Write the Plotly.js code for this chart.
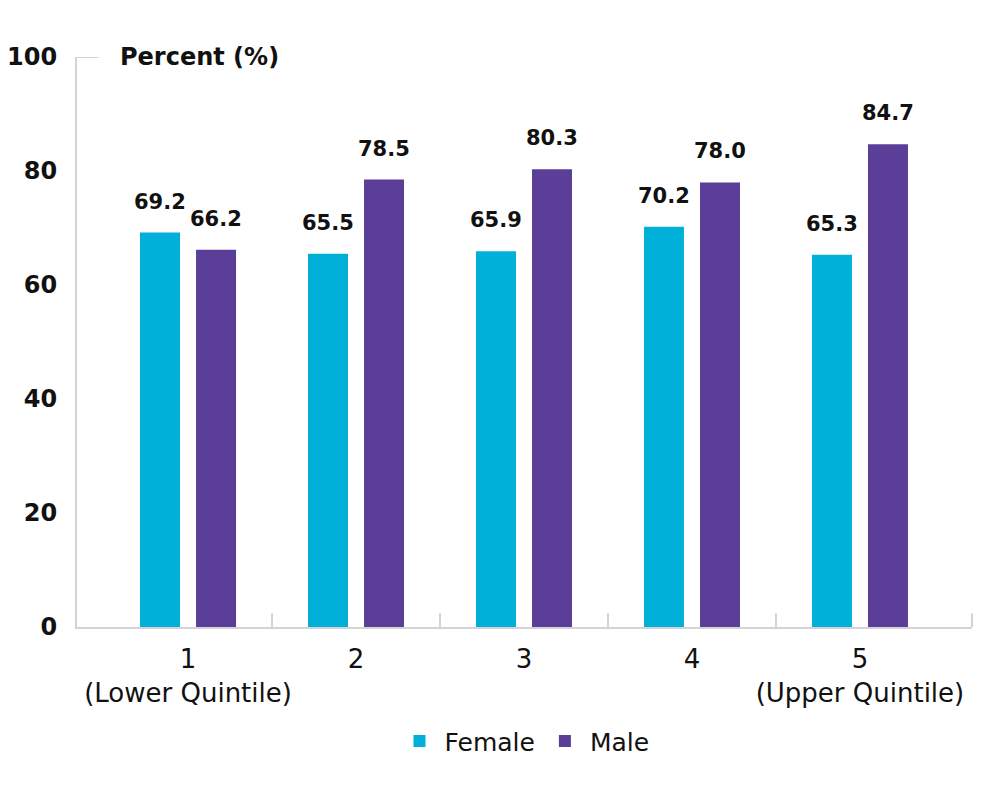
<!DOCTYPE html>
<html>
<head>
<meta charset="utf-8">
<script src="https://cdn.plot.ly/plotly-3.0.1.min.js"></script>
<style>html,body{margin:0;padding:0;background:#fff;}#chart{width:1000px;height:800px;}</style>
</head>
<body>
<div id="chart"></div>
<script>
const categories = ["1<br>(Lower Quintile)", "2", "3", "4", "5<br>(Upper Quintile)"];
const femaleValues = [69.2, 65.5, 65.9, 70.2, 65.3];
const maleValues = [66.2, 78.5, 80.3, 78.0, 84.7];
const yTicks = [0, 20, 40, 60, 80, 100];
const seriesNames = ["Female", "Male"];

const FONT = "DejaVu Sans, Arial, sans-serif";
const colors = ["#00B0D8", "#5A3E97"];
const xIdx = categories.map((_, i) => i);
const bargap = 0.333, bargroupgap = 0.286;
const slot = (1 - bargap) / 2;

const traces = [femaleValues, maleValues].map((vals, k) => ({
  type: "bar",
  name: seriesNames[k],
  x: xIdx,
  y: vals,
  marker: {color: colors[k]},
  hoverinfo: "none"
}));

const annotations = [];
[femaleValues, maleValues].forEach((vals, k) => {
  const off = (k === 0 ? -1 : 1) * slot / 2;
  vals.forEach((v, i) => {
    annotations.push({
      x: i + off, y: v, xref: "x", yref: "y",
      text: "<b>" + v.toFixed(1) + "</b>",
      showarrow: false, yanchor: "bottom", yshift: 17,
      font: {family: FONT, size: 21, color: "#111"}
    });
  });
});
annotations.push({
  xref: "paper", yref: "paper", x: 0.046, y: 1.0, xanchor: "left", yanchor: "middle",
  text: "<b>Percent (%)</b>", showarrow: false,
  font: {family: FONT, size: 24, color: "#111"}
});

const shapes = [];
[0.5, 1.5, 2.5, 3.5].forEach(b => shapes.push({
  type: "line", xref: "x", yref: "paper", x0: b, x1: b, y0: 0, y1: 0.024,
  line: {color: "#d4d4d4", width: 2}
}));
shapes.push({type: "line", xref: "paper", yref: "paper", x0: 1, x1: 1, y0: 0, y1: 0.024,
  line: {color: "#d4d4d4", width: 2}});
shapes.push({type: "line", xref: "paper", yref: "y", x0: 0, x1: 0.024, y0: 100, y1: 100,
  line: {color: "#d4d4d4", width: 2}});

const layout = {
  width: 1000, height: 800,
  margin: {l: 77, r: 28, t: 57, b: 173},
  paper_bgcolor: "#fff", plot_bgcolor: "#fff",
  barmode: "group", bargap: bargap, bargroupgap: bargroupgap,
  showlegend: true,
  legend: {orientation: "h", x: 0.5, xanchor: "center", y: -0.16, yanchor: "top",
    font: {family: FONT, size: 25, color: "#111"}, itemwidth: 40, tracegroupgap: 0},
  xaxis: {
    range: [-0.661, 4.667], tickmode: "array", tickvals: xIdx, ticktext: categories,
    showgrid: false, zeroline: false, showline: true, linecolor: "#d4d4d4", linewidth: 2,
    ticks: "", ticklabelstandoff: 8, tickfont: {family: FONT, size: 26, color: "#111"}, fixedrange: true
  },
  yaxis: {
    range: [0, 100], tickmode: "array", tickvals: yTicks, ticktext: yTicks.map(t => "<b>" + t + "</b>"),
    showgrid: false, zeroline: false, showline: true, linecolor: "#d4d4d4", linewidth: 2,
    ticks: "", ticklabelstandoff: 13, tickfont: {family: FONT, size: 24, color: "#111"}, fixedrange: true
  },
  annotations: annotations,
  shapes: shapes
};

Plotly.newPlot("chart", traces, layout, {displayModeBar: false, staticPlot: true});
</script>
</body>
</html>
